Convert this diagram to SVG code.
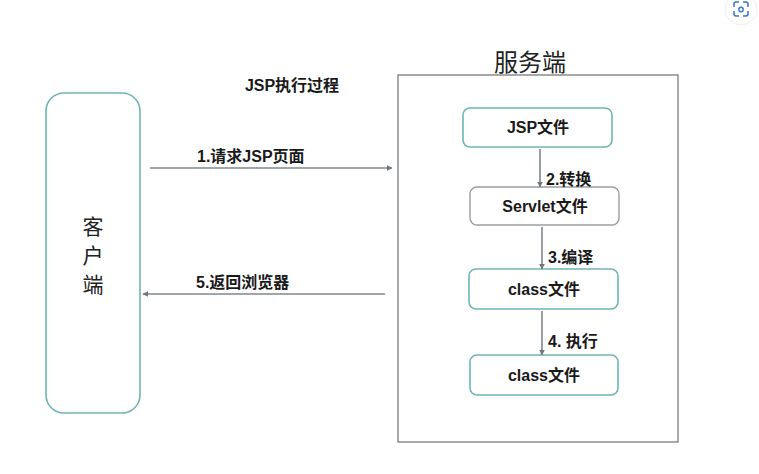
<svg xmlns="http://www.w3.org/2000/svg" width="759" height="474" viewBox="0 0 759 474">
<style>
.bg{fill:#ffffff}
.teal{fill:#ffffff;stroke:#6fb5b3;stroke-width:1.6}
.gray{fill:#ffffff;stroke:#9a9fa3;stroke-width:1.4}
.frame{fill:none;stroke:#6e7072;stroke-width:1.2}
.lbl{font-family:"Liberation Sans","Noto Sans CJK SC",sans-serif;font-weight:bold;font-size:16px;fill:#1a1a1a}
.node{font-family:"Liberation Sans","Noto Sans CJK SC",sans-serif;font-weight:bold;font-size:16px;fill:#1a1a1a;text-anchor:middle}
.big{font-family:"Noto Sans CJK SC",sans-serif;font-size:24px;fill:#222;text-anchor:middle}
.side{font-family:"Noto Sans CJK SC",sans-serif;font-size:21px;fill:#222;text-anchor:middle}
.conn{stroke:#7f878c;stroke-width:1.6;fill:none;marker-end:url(#ah)}
</style>
<defs>
<marker id="ah" viewBox="0 0 10 10" refX="9" refY="5" markerWidth="6" markerHeight="6" orient="auto" markerUnits="userSpaceOnUse">
<path d="M0,0 L10,5 L0,10 z" fill="#6f777c"/>
</marker>
</defs>
<rect class="bg" x="0" y="0" width="759" height="474"/>
<g id="lens-icon">
<circle cx="741" cy="9" r="16" fill="#ffffff" stroke="#eeeeee"/>
<path d="M734,7 v-3 a2,2 0 0 1 2,-2 h3 M743,2 h3 a2,2 0 0 1 2,2 v3 M748,11 v3 a2,2 0 0 1 -2,2 h-3 M739,16 h-3 a2,2 0 0 1 -2,-2 v-3" fill="none" stroke="#3a74c9" stroke-width="1.5"/>
<circle cx="741" cy="9.5" r="2.2" fill="none" stroke="#3a74c9" stroke-width="1.4"/>
</g>
<g id="title">
<text class="lbl" x="292" y="91" text-anchor="middle">JSP执行过程</text>
</g>
<g id="client">
<rect class="teal" x="46" y="93" width="94" height="320" rx="18"/>
<text class="side" x="93" y="234">客</text>
<text class="side" x="93" y="263">户</text>
<text class="side" x="93" y="292">端</text>
</g>
<g id="server">
<rect class="frame" x="398" y="75" width="280" height="367"/>
<text class="big" x="530" y="71">服务端</text>
</g>
<g id="jsp">
<rect class="teal" x="463" y="108" width="149" height="39" rx="7"/>
<text class="node" x="538" y="133">JSP文件</text>
</g>
<g id="servlet">
<rect class="gray" x="470" y="187" width="149" height="38" rx="7"/>
<text class="node" x="545" y="212">Servlet文件</text>
</g>
<g id="class1">
<rect class="teal" x="469" y="269" width="149" height="40" rx="7"/>
<text class="node" x="544" y="295">class文件</text>
</g>
<g id="class2">
<rect class="teal" x="470" y="355" width="148" height="40" rx="7"/>
<text class="node" x="544" y="381">class文件</text>
</g>
<g id="connectors">
<line class="conn" x1="150" y1="168" x2="392" y2="168"/>
<line class="conn" x1="385" y1="294" x2="143" y2="294"/>
<line class="conn" x1="540" y1="149" x2="540" y2="187"/>
<line class="conn" x1="542" y1="227" x2="542" y2="269"/>
<line class="conn" x1="542" y1="311" x2="542" y2="355"/>
<text class="lbl" x="197" y="162">1.请求JSP页面</text>
<text class="lbl" x="196" y="288">5.返回浏览器</text>
<text class="lbl" x="546" y="185">2.转换</text>
<text class="lbl" x="548" y="263">3.编译</text>
<text class="lbl" x="548" y="347">4. 执行</text>
</g>
</svg>
